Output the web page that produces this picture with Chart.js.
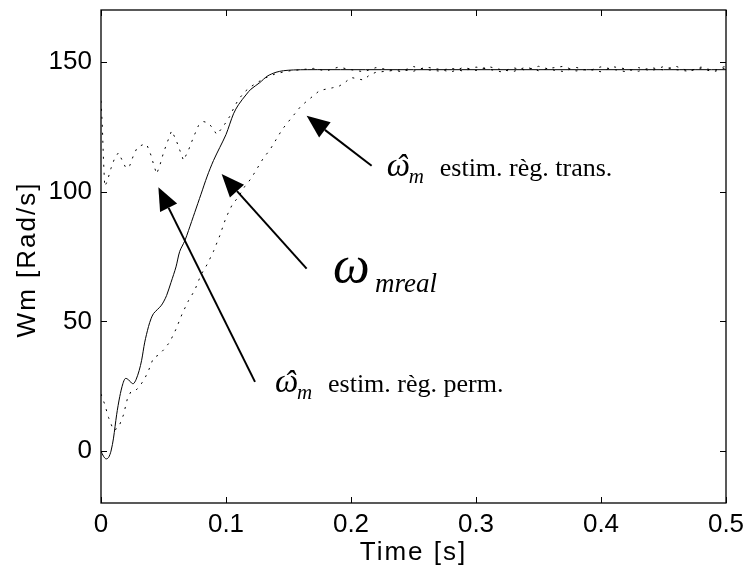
<!DOCTYPE html>
<html><head><meta charset="utf-8">
<script src="https://cdn.jsdelivr.net/npm/chart.js@4"></script>
<style>html,body{margin:0;padding:0;background:#fff}canvas{display:block}</style>
</head><body>
<canvas id="c" width="747" height="574"></canvas>
<script>
// ---- data ----
const xTicks = [0, 0.1, 0.2, 0.3, 0.4, 0.5];
const yTicks = [0, 50, 100, 150];

// omega_mreal (solid)
const tReal = [0,0.002,0.004,0.006,0.008,0.01,0.0125,0.015,0.0175,0.0195,0.022,0.0245,0.026,0.028,0.0305,0.0325,0.035,0.038,0.04,0.042,0.045,0.048,0.05,0.0525,0.056,0.06,0.063,0.067,0.07,0.075,0.08,0.085,0.09,0.095,0.1,0.106,0.11,0.1165,0.12,0.127,0.133,0.14,0.146,0.154,0.165,0.2,0.3,0.4,0.5];
const wReal = [0,-2,-3,-2.5,0,5,14,21,26,28,27.5,26.2,26,27.5,31,35,42,48,51,53,54.5,56,57.5,60,65,71,77,81,85,92,99,106,112,117,122,130,133.5,137.6,139.5,142,144.5,146,146.6,146.9,147,147,147,147,147];

// estimator, steady-state regime (dotted)
const tPerm = [0,0.001,0.002,0.003,0.005,0.008,0.011,0.014,0.017,0.02,0.023,0.026,0.029,0.033,0.0365,0.04,0.042,0.0445,0.047,0.05,0.053,0.0565,0.06,0.063,0.066,0.07,0.074,0.078,0.082,0.086,0.09,0.0925,0.096,0.099,0.103,0.107,0.11,0.115,0.12,0.125,0.13,0.135,0.14,0.15,0.16,0.17,0.18,0.19,0.2,0.21,0.22,0.23,0.24,0.25,0.26,0.27,0.28,0.29,0.3,0.31,0.32,0.33,0.34,0.35,0.36,0.37,0.38,0.39,0.4,0.41,0.42,0.43,0.44,0.45,0.46,0.47,0.48,0.49,0.5];
const wPerm = [135,126,112,102,104,109,113,115,112,109,110,114,117,118,118.3,114,110.6,106.8,110,115,119,123.5,120,116,112,116,121,125.5,127,126.5,124,122,124,126,129,133,135.5,138.5,140.5,142,143.5,144.5,145.5,146.5,147,147.5,146.5,148,147,146.2,147.8,147,146.3,148.2,147,146.5,147.6,146.4,148,147.2,146.2,147.7,146.8,148.3,147,146.3,147.9,146.6,148.1,147.1,146.2,147.8,146.5,148.2,147,146.4,148,146.6,148.4];

// estimator, transient regime (dotted)
const tTrans = [0,0.003,0.006,0.01,0.014,0.018,0.021,0.024,0.028,0.031,0.035,0.038,0.042,0.046,0.05,0.055,0.06,0.065,0.07,0.075,0.08,0.085,0.09,0.095,0.1,0.105,0.11,0.115,0.12,0.125,0.13,0.135,0.14,0.145,0.15,0.155,0.16,0.165,0.17,0.175,0.18,0.185,0.19,0.195,0.2,0.205,0.21,0.215,0.22,0.23,0.24,0.25,0.26,0.27,0.28,0.29,0.3,0.31,0.32,0.33,0.34,0.35,0.36,0.37,0.38,0.39,0.4,0.41,0.42,0.43,0.44,0.45,0.46,0.47,0.48,0.49,0.5];
const wTrans = [22,18,13,8,9,14,20,23,23.5,25,28,31,36,37,39,42,47,53,58,62,68,72,77,83,90,95,98,102,105,109,113,116,120,124,127,130,133,135,137,139,139.5,140,140.5,142,144,143.5,143,145,146,146.5,147,146.4,148,147.2,146.1,147.9,146.7,148.2,147,146.3,148,146.6,147.6,148.3,146.5,147.2,146.2,148.1,147.3,146.4,147.8,146.9,148.3,146.5,147.4,146.2,147.7];

const toXY = (ts, ws) => ts.map((t, i) => ({x: t, y: ws[i]}));

// ---- annotation placement (data coordinates) ----
const arrows = [
  {tip:[0.1645,129.2], tail:[0.2165,110]},
  {tip:[0.0965,106.8], tail:[0.1645,70.3]},
  {tip:[0.0459,101.7], tail:[0.1232,26.7]}
];

const SERIF = '"Liberation Serif", "Times New Roman", serif';
const SANS = '"Liberation Sans", Arial, sans-serif';

const deco = {
  id: 'deco',
  afterDatasetsDraw(chart) {
    const {ctx, chartArea: a, scales: {x, y}} = chart;
    ctx.save();
    ctx.strokeStyle = '#000';
    ctx.lineWidth = 1.3;
    ctx.strokeRect(a.left, a.top, a.right - a.left, a.bottom - a.top);
    ctx.lineWidth = 1;
    ctx.beginPath();
    xTicks.forEach(v => {
      const p = Math.round(x.getPixelForValue(v)) + 0.5;
      ctx.moveTo(p, a.bottom); ctx.lineTo(p, a.bottom - 6);
      ctx.moveTo(p, a.top); ctx.lineTo(p, a.top + 6);
    });
    yTicks.forEach(v => {
      const p = Math.round(y.getPixelForValue(v)) + 0.5;
      ctx.moveTo(a.left, p); ctx.lineTo(a.left + 6, p);
      ctx.moveTo(a.right, p); ctx.lineTo(a.right - 6, p);
    });
    ctx.stroke();

    // arrows
    ctx.fillStyle = '#000';
    arrows.forEach(ar => {
      const tx = x.getPixelForValue(ar.tip[0]), ty = y.getPixelForValue(ar.tip[1]);
      const sx = x.getPixelForValue(ar.tail[0]), sy = y.getPixelForValue(ar.tail[1]);
      const ang = Math.atan2(ty - sy, tx - sx);
      const L = 23, W = 9.5;
      const bx = tx - L * Math.cos(ang), by = ty - L * Math.sin(ang);
      ctx.lineWidth = 2;
      ctx.beginPath(); ctx.moveTo(sx, sy); ctx.lineTo(bx, by); ctx.stroke();
      ctx.beginPath();
      ctx.moveTo(tx, ty);
      ctx.lineTo(bx + W * Math.sin(ang), by - W * Math.cos(ang));
      ctx.lineTo(bx - W * Math.sin(ang), by + W * Math.cos(ang));
      ctx.closePath(); ctx.fill();
    });

    // labels
    ctx.textBaseline = 'alphabetic';
    ctx.textAlign = 'left';
    const omegaHat = (px, py, txt) => {
      ctx.font = 'italic 33px ' + SERIF;
      ctx.fillText('ω', px, py);
      ctx.fillText('ˆ', px + 9, py + 2);
      ctx.font = 'italic 21px ' + SERIF;
      ctx.fillText('m', px + 22, py + 7);
      ctx.font = '26px ' + SERIF;
      ctx.fillText(txt, px + 53, py);
    };
    omegaHat(x.getPixelForValue(0.2286), y.getPixelForValue(106.2), 'estim. règ. trans.');
    omegaHat(x.getPixelForValue(0.1392), y.getPixelForValue(22.7), 'estim. règ. perm.');
    const rx = x.getPixelForValue(0.1856), ry = y.getPixelForValue(65);
    ctx.font = 'italic 52px ' + SERIF;
    ctx.fillText('ω', rx, ry);
    ctx.font = 'italic 27px ' + SERIF;
    ctx.fillText('mreal', rx + 42, ry + 10);

    // axis titles
    ctx.font = '26px ' + SANS;
    ctx.letterSpacing = '2px';
    ctx.textAlign = 'center';
    ctx.textBaseline = 'middle';
    ctx.fillText('Time [s]', (a.left + a.right) / 2, 553);
    ctx.translate(28, (a.top + a.bottom) / 2 + 3);
    ctx.rotate(-Math.PI / 2);
    ctx.fillText('Wm [Rad/s]', 0, 0);
    ctx.restore();
  }
};

new Chart(document.getElementById('c'), {
  type: 'line',
  data: {
    datasets: [
      {label: 'ω mreal', data: toXY(tReal, wReal), borderColor: '#000', borderWidth: 1, pointRadius: 0, tension: 0.3},
      {label: 'ω̂m estim. règ. perm.', data: toXY(tPerm, wPerm), borderColor: '#000', borderWidth: 1, borderDash: [2, 6], pointRadius: 0, tension: 0},
      {label: 'ω̂m estim. règ. trans.', data: toXY(tTrans, wTrans), borderColor: '#000', borderWidth: 1, borderDash: [2, 6], pointRadius: 0, tension: 0}
    ]
  },
  options: {
    responsive: false,
    animation: false,
    layout: {padding: {top: 10, right: 21, left: 0, bottom: 0}},
    plugins: {legend: {display: false}, tooltip: {enabled: false}},
    scales: {
      x: {
        type: 'linear', min: 0, max: 0.5,
        grid: {display: false, drawTicks: false}, border: {display: false},
        afterBuildTicks: s => { s.ticks = xTicks.map(v => ({value: v})); },
        afterFit: s => { s.height = 71; s.paddingLeft = 0; s.paddingRight = 0; },
        ticks: {color: '#000', padding: 6, maxRotation: 0, font: {family: SANS, size: 26}, callback: v => String(v)}
      },
      y: {
        type: 'linear', min: -20, max: 170,
        grid: {display: false, drawTicks: false}, border: {display: false},
        afterBuildTicks: s => { s.ticks = yTicks.map(v => ({value: v})); },
        afterFit: s => { s.width = 101; s.paddingTop = 0; s.paddingBottom = 0; },
        ticks: {color: '#000', padding: 9, font: {family: SANS, size: 26}, callback: v => String(v)}
      }
    }
  },
  plugins: [deco]
});
</script>
</body></html>
